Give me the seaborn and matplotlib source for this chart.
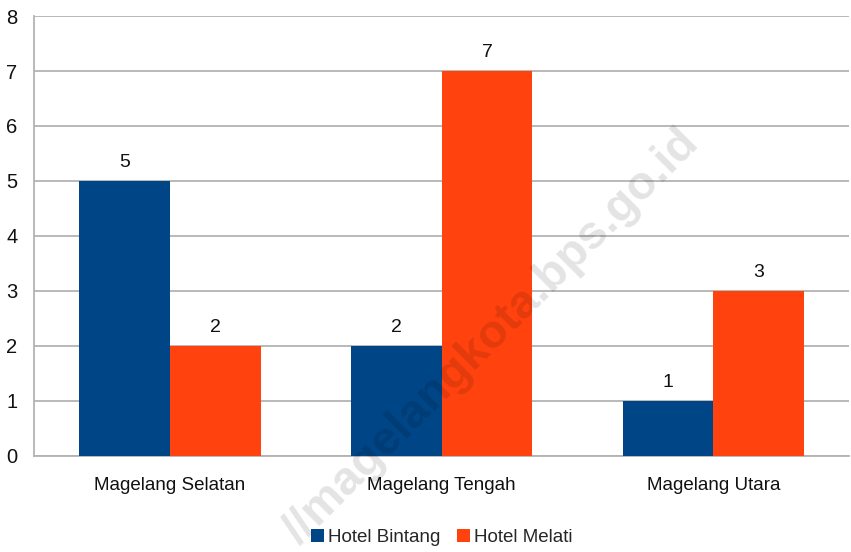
import matplotlib
matplotlib.use("Agg")
import matplotlib.pyplot as plt
import pandas as pd
import seaborn as sns

categories = ["Magelang Selatan", "Magelang Tengah", "Magelang Utara"]
series_names = ["Hotel Bintang", "Hotel Melati"]
hotel_bintang = [5, 2, 1]
hotel_melati = [2, 7, 3]
colors = ["#004586", "#ff420e"]

df = pd.DataFrame({
    "kecamatan": categories * 2,
    "jenis": [series_names[0]] * 3 + [series_names[1]] * 3,
    "jumlah": hotel_bintang + hotel_melati,
})

sns.set_style("white")
plt.rcParams["font.family"] = ["Liberation Sans", "DejaVu Sans"]

fig = plt.figure(figsize=(8.51, 5.52), dpi=100)
ax = fig.add_axes([0.040, 0.174, 0.958, 0.797])

sns.barplot(data=df, x="kecamatan", y="jumlah", hue="jenis",
            palette=colors, width=0.667, saturation=1, linewidth=0,
            ax=ax, zorder=3)

for cont in ax.containers:
    ax.bar_label(cont, fmt="%d", padding=7, fontsize=14, color="#111111")

ax.set_ylim(0, 8)
ax.set_xlim(-0.5, 2.5)
ax.set_yticks(range(0, 9))
ax.yaxis.grid(True, color="#b3b3b3", linewidth=1.3, zorder=0)
ax.set_axisbelow(True)
ax.set_xlabel("")
ax.set_ylabel("")

ax.set_xticks([0, 1, 2])
ax.set_xticklabels(categories, fontsize=13.5, color="#111111")
ax.set_xticks([-0.5, 0.5, 1.5, 2.5], minor=True)
ax.tick_params(axis="x", which="major", length=0, pad=15)
ax.tick_params(axis="x", which="minor", length=7, color="#b3b3b3", width=1.3)
ax.tick_params(axis="y", length=7, color="#b3b3b3", width=1.3, labelsize=14.5,
               labelcolor="#111111", pad=5)

for s in ["top", "right"]:
    ax.spines[s].set_visible(False)
for s in ["left", "bottom"]:
    ax.spines[s].set_color("#b3b3b3")
    ax.spines[s].set_linewidth(1.3)

ax.legend(loc="center", bbox_to_anchor=(0.5, -0.186), ncol=2, frameon=False,
          fontsize=13.5, handlelength=0.7, handleheight=0.7, handletextpad=0.2,
          columnspacing=0.9)

fig.text(0.578, 0.39, "//magelangkota.bps.go.id", rotation=45, fontsize=34,
         fontweight="bold", color="black", alpha=0.11, ha="center", va="center",
         zorder=10)

fig.savefig("out.png", dpi=100)
